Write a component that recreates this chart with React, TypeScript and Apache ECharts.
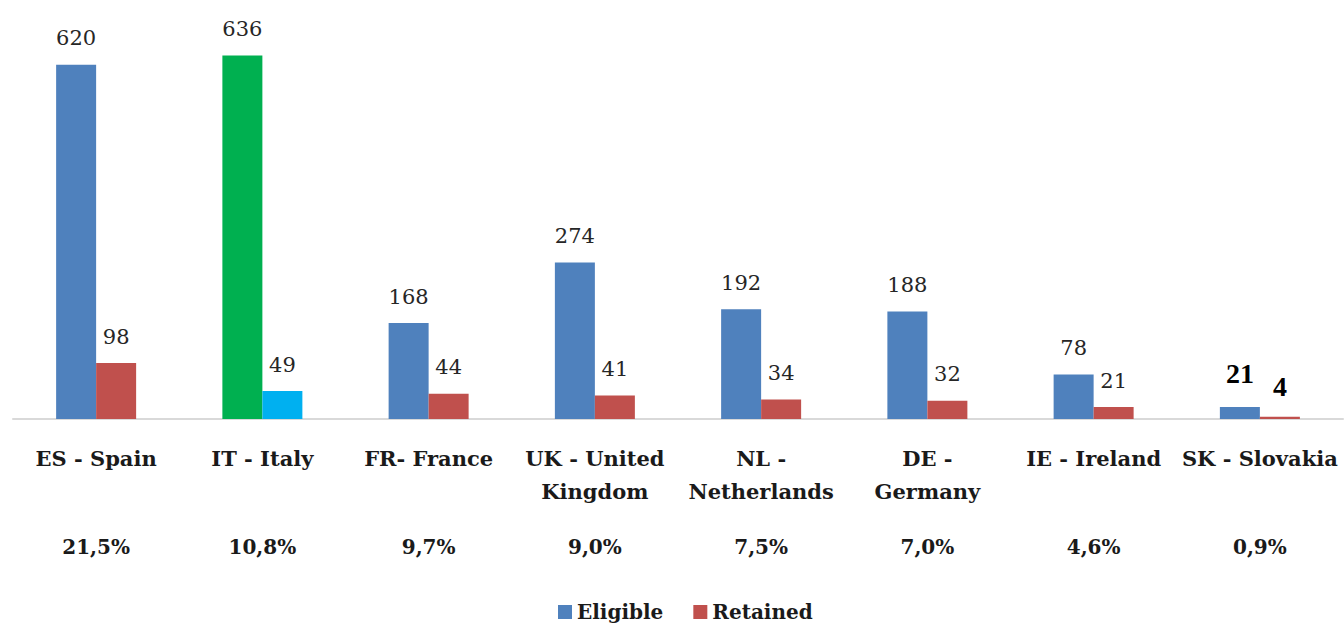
import React, { useEffect, useRef } from "react";
import * as echarts from "echarts";

const categories = [
  "ES - Spain",
  "IT - Italy",
  "FR- France",
  "UK - United\nKingdom",
  "NL -\nNetherlands",
  "DE -\nGermany",
  "IE - Ireland",
  "SK - Slovakia",
];
const shares = ["21,5%", "10,8%", "9,7%", "9,0%", "7,5%", "7,0%", "4,6%", "0,9%"];
const eligible = [620, 636, 168, 274, 192, 188, 78, 21];
const retained = [98, 49, 44, 41, 34, 32, 21, 4];

const BLUE = "#4f81bd";
const RED = "#c0504d";
const GREEN = "#00b050";
const CYAN = "#00b0f0";
const LABEL_FONT = "DejaVu Serif";

export default function App() {
  const ref = useRef<HTMLDivElement>(null);
  useEffect(() => {
    if (!ref.current) return;
    const chart = echarts.init(ref.current, undefined, { renderer: "svg" });
    const valueLabel = {
      show: true,
      position: "top",
      distance: 16,
      fontFamily: LABEL_FONT,
      fontSize: 21,
      color: "#262626",
    };
    const bigLabel = (d: number) => ({
      fontSize: 28,
      fontWeight: "bold",
      fontFamily: "Liberation Serif",
      color: "#000",
      distance: d,
    });
    chart.setOption({
      animation: false,
      legend: {
        left: 553,
        top: 596,
        itemWidth: 14,
        itemHeight: 14,
        itemGap: 30,
        icon: "rect",
        textStyle: {
          fontFamily: LABEL_FONT,
          fontWeight: "bold",
          fontSize: 20,
          lineHeight: 22,
          color: "#1a1a1a",
        },
        data: ["Eligible", "Retained"],
      },
      grid: { left: 13, right: 1, top: 19, bottom: 204, containLabel: false },
      xAxis: [
        {
          type: "category",
          data: categories,
          axisLine: { lineStyle: { color: "#d9d9d9", width: 2 } },
          axisTick: { length: 148, lineStyle: { color: "#d9d9d9", width: 2 } },
          axisLabel: {
            interval: 0,
            margin: 23,
            lineHeight: 33,
            verticalAlign: "top",
            fontFamily: LABEL_FONT,
            fontWeight: "bold",
            fontSize: 21,
            color: "#1a1a1a",
          },
        },
        {
          type: "category",
          position: "bottom",
          data: shares,
          axisLine: { show: false },
          axisTick: { show: false },
          axisLabel: {
            interval: 0,
            margin: 118,
            fontFamily: LABEL_FONT,
            fontWeight: "bold",
            fontSize: 20,
            color: "#1a1a1a",
          },
        },
      ],
      yAxis: {
        type: "value",
        min: 0,
        max: 700,
        show: false,
        splitLine: { show: false },
      },
      series: [
        {
          name: "Eligible",
          type: "bar",
          barWidth: 40,
          barGap: "0%",
          itemStyle: { color: BLUE },
          label: valueLabel,
          data: eligible.map((v, i) =>
            i === 1
              ? { value: v, itemStyle: { color: GREEN } }
              : i === 7
              ? { value: v, label: bigLabel(20) }
              : v
          ),
        },
        {
          name: "Retained",
          type: "bar",
          barWidth: 40,
          barGap: "0%",
          itemStyle: { color: RED },
          label: valueLabel,
          data: retained.map((v, i) =>
            i === 1
              ? { value: v, itemStyle: { color: CYAN } }
              : i === 7
              ? { value: v, label: bigLabel(16) }
              : v
          ),
        },
      ],
    });
    return () => chart.dispose();
  }, []);
  return (
    <div
      ref={ref}
      style={{ position: "fixed", left: 0, top: 0, width: 1344, height: 623, background: "#fff" }}
    />
  );
}
